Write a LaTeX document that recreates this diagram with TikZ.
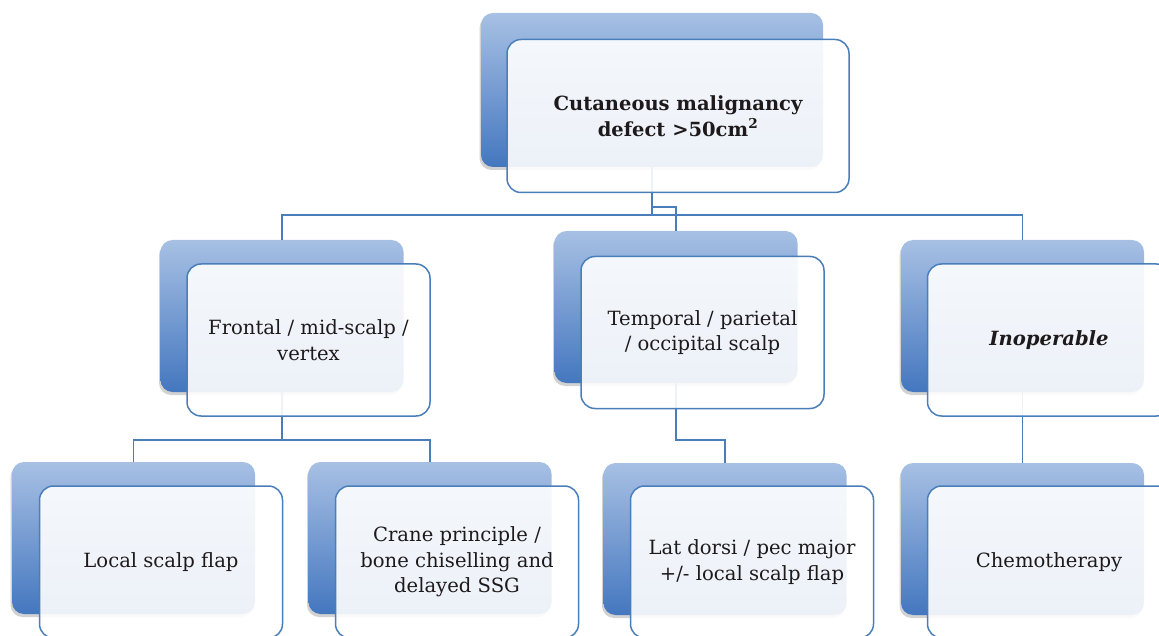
\documentclass[tikz,border=0pt]{standalone}
\usepackage{fontspec}
\setmainfont{DejaVu Serif}
\usetikzlibrary{shadows,calc}
\definecolor{backtop}{HTML}{A7C0E4}
\definecolor{backmid}{HTML}{92AFDC}
\definecolor{backbot}{HTML}{4477BF}
\definecolor{linec}{HTML}{4A7EBB}
\definecolor{textc}{HTML}{1E1A1B}
\tikzset{
  backbox/.style={rounded corners=12pt, minimum width=243pt, minimum height=152pt,
    top color=backtop, middle color=backmid, bottom color=backbot, draw=none,
    drop shadow={shadow xshift=-1.5pt, shadow yshift=-3pt, opacity=0.25, fill=black!70}},
  frontbox/.style={rounded corners=14pt, minimum width=243pt, minimum height=152pt,
    draw=linec, line width=1.5pt, fill=white, fill opacity=0.9, text opacity=1,
    text=textc, align=center, font=\fontsize{19.6}{25.5}\selectfont},
  link/.style={draw=linec, line width=1.5pt},
}
\begin{document}
\begin{tikzpicture}[x=1pt, y=-1pt]
\useasboundingbox (0,0) rectangle (1159,636);
\clip (0,0) rectangle (1159,636);
% shaded back plates
\node[backbox, minimum width=342pt, minimum height=154pt] (tb) at (652,90) {};
\node[backbox] (lb) at (282,316) {};
\node[backbox] (mb) at (676,307) {};
\node[backbox] (rb) at (1022.5,316) {};
\node[backbox] (l3a) at (133.5,538) {};
\node[backbox] (l3b) at (430,538) {};
\node[backbox] (m3) at (725,539) {};
\node[backbox] (r3) at (1022.5,539) {};
% connectors
\draw[link] (tb.south) -- ++(0,48) coordinate (j1);
\draw[link] (lb.north) |- (j1) -| (rb.north);
\draw[link] ($(tb.south)+(0,40)$) -| (mb.north);
\draw[link] (lb.south) -- ++(0,48) coordinate (j2);
\draw[link] (l3a.north) |- (j2) -| (l3b.north);
\draw[link] (mb.south) -- ++(0,57) -| (m3.north);
\draw[link] (rb.south) -- (r3.north);
% translucent front cards with the labels
\node[frontbox, minimum width=342pt, minimum height=153pt, font=\fontsize{19.5}{25.5}\selectfont\bfseries] (tf) at (678,116) {Cutaneous malignancy\\defect >50cm\textsuperscript{2}};
\node[frontbox] (lf) at (308.5,340) {Frontal / mid-scalp /\\vertex};
\node[frontbox] (mf) at (702.5,332.5) {Temporal / parietal\\/ occipital scalp};
\node[frontbox] (rf) at (1049,340) {\textbf{\textit{Inoperable}}};
\node[frontbox] (l3af) at (161,562) {Local scalp flap};
\node[frontbox] (l3bf) at (457,562) {Crane principle /\\bone chiselling and\\delayed SSG};
\node[frontbox] (m3f) at (752,562) {Lat dorsi / pec major\\+/- local scalp flap};
\node[frontbox] (r3f) at (1049,562) {Chemotherapy};
\end{tikzpicture}
\end{document}
